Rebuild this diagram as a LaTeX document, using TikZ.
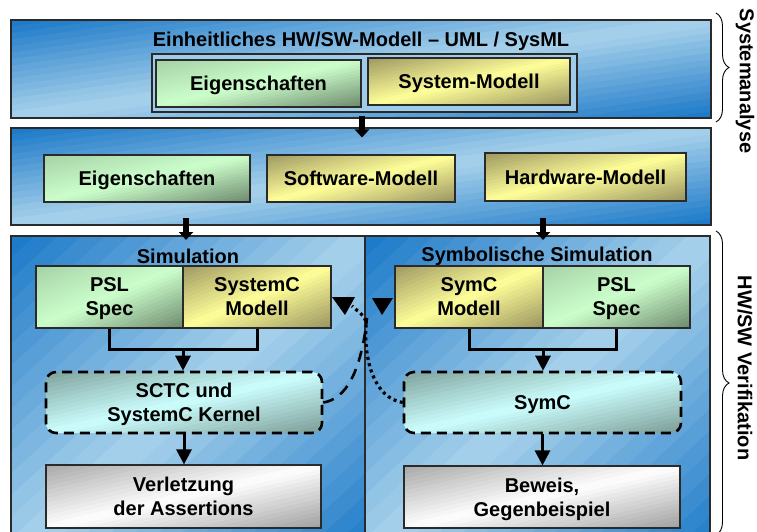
\documentclass[tikz,border=0pt]{standalone}
\usepackage{fontspec}
\setmainfont{Liberation Sans}
\usetikzlibrary{arrows.meta,decorations.pathreplacing}

% colour sets: A = top-left corner, B = diagonal middle, C = bottom-right corner
\definecolor{panelA}{HTML}{1A78C8}
\definecolor{panelB}{HTML}{AAD3EC}
\definecolor{panelC}{HTML}{1A78C8}
\definecolor{greenboxA}{HTML}{A6D2A6}
\definecolor{greenboxB}{HTML}{CCFFCC}
\definecolor{greenboxC}{HTML}{6E8A6E}
\definecolor{yellowboxA}{HTML}{9E9862}
\definecolor{yellowboxB}{HTML}{FFFF99}
\definecolor{yellowboxC}{HTML}{9A9460}
\definecolor{engineboxA}{HTML}{7FA29C}
\definecolor{engineboxB}{HTML}{CCFFFF}
\definecolor{engineboxC}{HTML}{7C9C96}
\definecolor{resultboxA}{HTML}{A8A8A8}
\definecolor{resultboxB}{HTML}{FFFFFF}
\definecolor{resultboxC}{HTML}{A0A0A0}
\definecolor{edge}{HTML}{2A2A2A}
\def\panelR{0pt}
\def\greenboxR{0pt}
\def\yellowboxR{0pt}
\def\engineboxR{10pt}
\def\resultboxR{0pt}

\tikzset{
  every node/.style={font=\fontsize{20}{24}\selectfont\bfseries, align=center, inner sep=0pt},
  panel/.style={draw=edge, line width=1.6pt},
  group/.style={draw=edge, line width=1.4pt, fill=panelB!92!panelA},
  greenbox/.style={draw=edge, line width=1.2pt, text depth=0pt},
  yellowbox/.style={draw=edge, line width=1.2pt, text depth=0pt},
  enginebox/.style={draw=black, line width=2.6pt, dash pattern=on 10pt off 6pt,
    rounded corners=10pt, text depth=0pt},
  resultbox/.style={draw=edge, line width=1.2pt, text depth=0pt},
  bigarrow/.style={line width=6pt, -{Triangle[width=14pt,length=8pt]}},
  flow/.style={line width=3pt},
  flowarrow/.style={line width=3pt, -{Triangle[width=15pt,length=15pt]}},
  bracelabel/.style={rotate=-90},
  bracedeco/.style={decorate, decoration={brace, amplitude=13pt}, line width=0.9pt}
}

% diagonal three-colour gradient over the rectangle (x1,y1)-(x2,y2)
\newcommand{\gradfill}[8]{%
  \begin{scope}
    \clip[rounded corners=#8] (#1,#2) rectangle (#3,#4);
    \pgfmathsetmacro{\gbW}{#3-#1}%
    \pgfmathsetmacro{\gbH}{#4-#2}%
    \begin{scope}[shift={(#1,#2)}, x={(\gbW pt,0pt)}, y={(0pt,-\gbH pt)}]
      \foreach \k in {0,...,29}{%
        \pgfmathsetmacro{\gbUa}{\k/15}%
        \pgfmathsetmacro{\gbUb}{(\k+1.4)/15}%
        \pgfmathtruncatemacro{\gbPc}{100*min((\k+0.5)/15,2-(\k+0.5)/15)}%
        \ifnum\k<15 \def\gbCc{#5}\else\def\gbCc{#7}\fi
        \fill[#6!\gbPc!\gbCc] (\gbUa+1,-1) -- (\gbUb+1,-1) -- (\gbUb-2,2) -- (\gbUa-2,2) -- cycle;
      }
    \end{scope}
  \end{scope}}

% shaded box: style, name, centre x, centre y, width, height, text
\newcommand{\shadedbox}[7]{%
  \pgfmathsetmacro{\gbXa}{#3-#5/2}\pgfmathsetmacro{\gbXb}{#3+#5/2}%
  \pgfmathsetmacro{\gbYa}{#4-#6/2}\pgfmathsetmacro{\gbYb}{#4+#6/2}%
  \gradfill{\gbXa}{\gbYa}{\gbXb}{\gbYb}{#1A}{#1B}{#1C}{\csname #1R\endcsname}
  \node[#1, minimum width=#5pt, minimum height=#6pt] (#2) at (#3,#4) {#7};}

\begin{document}
\begin{tikzpicture}[x=1pt, y=-1pt]
\useasboundingbox (0,0) rectangle (757,532);

% --- system analysis: unified model
\shadedbox{panel}{p1}{361}{69}{700}{98}{}
\node (t1) at (361,41) {Einheitliches HW/SW-Modell -- UML / SysML};
\node[group, minimum width=425pt, minimum height=58pt] (grp) at (364.5,83) {};
\shadedbox{greenbox}{eig1}{258.5}{83.5}{205}{47}{Eigenschaften}
\shadedbox{yellowbox}{sys}{469}{81.5}{202}{47}{System-Modell}

% --- system analysis: refined models
\shadedbox{panel}{p2}{361}{176.5}{700}{97}{}
\shadedbox{greenbox}{eig2}{147}{178.5}{206}{47}{Eigenschaften}
\shadedbox{yellowbox}{sw}{361}{178.5}{188}{47}{Software-Modell}
\shadedbox{yellowbox}{hw}{585.5}{177}{201}{48}{Hardware-Modell}

% --- verification panels
\shadedbox{panel}{p3l}{188}{398}{354}{324}{}
\shadedbox{panel}{p3r}{537.5}{398}{345}{324}{}
\node (tl) at (188,256) {Simulation};
\node (tr) at (537,256) {Symbolische Simulation};

% simulation column
\shadedbox{greenbox}{pslL}{109.5}{297}{147}{62}{PSL\\Spec}
\shadedbox{yellowbox}{syscL}{257}{297}{148}{62}{SystemC\\Modell}
\shadedbox{enginebox}{sctc}{184}{402.5}{276}{61}{SCTC und\\SystemC Kernel}
\shadedbox{resultbox}{verl}{183.5}{496.5}{275}{63}{Verletzung\\der Assertions}

% symbolic simulation column
\shadedbox{yellowbox}{symM}{469}{297}{148}{62}{SymC\\Modell}
\shadedbox{greenbox}{pslR}{616.5}{297}{147}{62}{PSL\\Spec}
\shadedbox{enginebox}{symc}{542.5}{402.5}{277}{61}{SymC}
\shadedbox{resultbox}{bew}{542}{497}{276}{62}{Beweis,\\Gegenbeispiel}

% --- block arrows between the stages
\coordinate (a1) at (362,116);
\coordinate (a1e) at (362,137.5);
\coordinate (a2) at (186,218);
\coordinate (a2e) at (186,240);
\coordinate (a3) at (543,218);
\coordinate (a3e) at (543,240);
\draw[bigarrow] (a1) -- (a1e);
\draw[bigarrow] (a2) -- (a2e);
\draw[bigarrow] (a3) -- (a3e);

% --- simulation flow
\coordinate (jL) at (183,349.5);
\draw[flow] (pslL.south) |- (jL) -| (syscL.south);
\draw[flowarrow] (jL) -- (jL |- sctc.north);
\draw[flowarrow] (sctc.south) -- (sctc.south |- verl.north);

% --- symbolic simulation flow
\coordinate (jR) at (543,349.5);
\draw[flow] (symM.south) |- (jR) -| (pslR.south);
\draw[flowarrow] (jR) -- (jR |- symc.north);
\draw[flowarrow] (symc.south) -- (symc.south |- bew.north);

% --- cross links between the two kernels
\coordinate (dashEnd) at (367,318);
\coordinate (dotEnd) at (352,306);
\draw[line width=2.6pt, dash pattern=on 11pt off 8pt] (sctc.east) .. controls (346,399) and (361,372) .. (dashEnd);
\draw[line width=3.2pt, dash pattern=on 3pt off 3.5pt] (symc.west) .. controls (374,398) and (364,360) .. (366,326) .. controls (366,318) .. (dotEnd);
\fill (332,297) -- (355,297) -- (345,315) -- cycle;
\fill (372,298) -- (393,298) -- (382,315) -- cycle;

% --- phase braces
\coordinate (b1s) at (716,13);
\coordinate (b1e) at (716,122);
\coordinate (b2s) at (716,231);
\coordinate (b2e) at (716,535);
\draw[bracedeco] (b1s) -- (b1e);
\draw[bracedeco] (b2s) -- (b2e);
\node[bracelabel] (lab1) at (745,81) {Systemanalyse};
\node[bracelabel] (lab2) at (745,368) {HW/SW Verifikation};
\end{tikzpicture}
\end{document}
